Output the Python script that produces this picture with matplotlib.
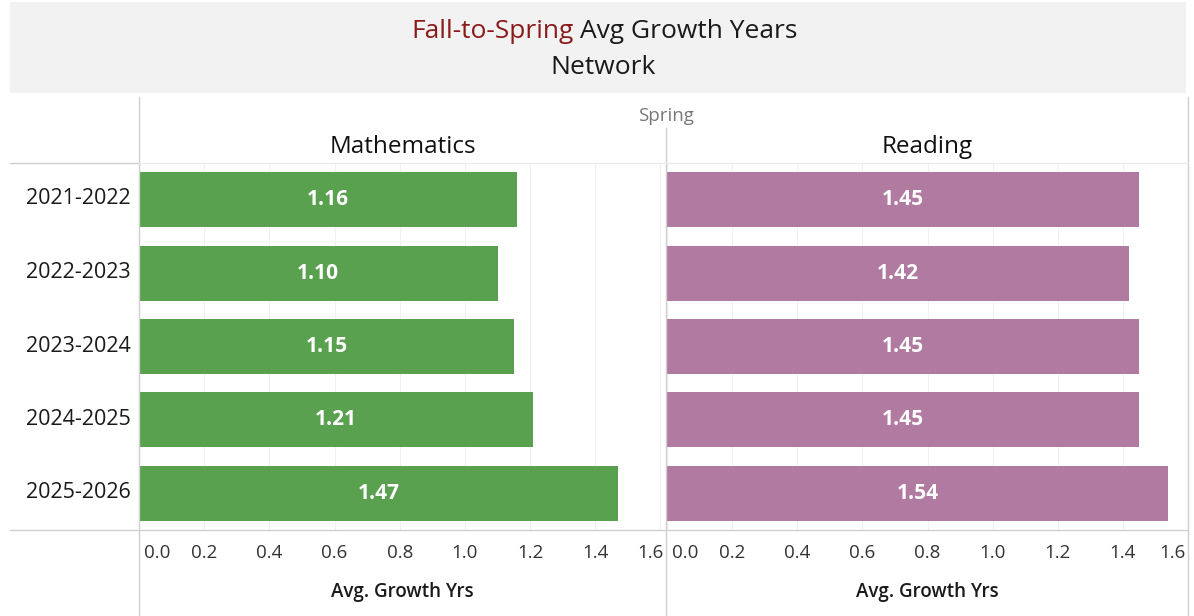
import matplotlib
matplotlib.use('Agg')
import matplotlib.pyplot as plt
from matplotlib.patches import Rectangle
from matplotlib.lines import Line2D

plt.rcParams['font.family'] = ['Open Sans', 'DejaVu Sans']

years = ['2021-2022', '2022-2023', '2023-2024', '2024-2025', '2025-2026']
math_vals = [1.16, 1.10, 1.15, 1.21, 1.47]
read_vals = [1.45, 1.42, 1.45, 1.45, 1.54]
subjects = ['Mathematics', 'Reading']
ticks = [0.0, 0.2, 0.4, 0.6, 0.8, 1.0, 1.2, 1.4, 1.6]

W, H = 1194, 616
fig = plt.figure(figsize=(W / 100, H / 100), dpi=100)

def fx(px):
    return px / W

def fy(py):
    return 1 - py / H

# title band
fig.patches.append(Rectangle((fx(10), fy(93)), fx(1186) - fx(10), fy(2) - fy(93),
                             transform=fig.transFigure, facecolor='#f2f2f2', edgecolor='none'))
fig.text(fx(574), fy(32), 'Fall-to-Spring', color='#8b1a1a', fontsize=19, ha='right', va='center')
fig.text(fx(580), fy(32), 'Avg Growth Years', color='#1a1a1a', fontsize=19, ha='left', va='center')
fig.text(fx(603), fy(67), 'Network', color='#1a1a1a', fontsize=19, ha='center', va='center')

# frame lines
def fline(x0, y0, x1, y1, c='#d0d0d0', lw=1.0):
    fig.lines.append(Line2D([fx(x0), fx(x1)], [fy(y0), fy(y1)], transform=fig.transFigure,
                            color=c, lw=lw))

fline(139, 97, 139, 616)
fline(666, 128, 666, 616)
fline(1188, 97, 1188, 616)
fline(10, 163, 139, 163)
fline(139, 163, 1188, 163, c='#ececec')
fline(10, 530, 1188, 530)

fig.text(fx(666), fy(116), 'Spring', color='#777777', fontsize=13.5, ha='center', va='center')

colors = ['#59a14f', '#b07aa1']
panels = [(139, 666, 1.617, math_vals), (667, 1188, 1.60, read_vals)]
for (x0, x1, xmax, vals), subj, col in zip(panels, subjects, colors):
    ax = fig.add_axes([fx(x0), fy(530), fx(x1) - fx(x0), fy(163) - fy(530)])
    pos = list(range(len(years)))
    ax.barh(pos, vals, height=0.75, color=col, zorder=2)
    for p, v in zip(pos, vals):
        ax.text(v / 2, p, f'{v:.2f}', color='white', fontsize=15, fontweight='bold',
                ha='center', va='center', zorder=3)
    ax.set_xlim(0, xmax)
    ax.set_ylim(len(years) - 0.5, -0.5)
    ax.set_xticks(ticks)
    ax.grid(axis='x', color='#f0f0f0', lw=0.8, zorder=0)
    ax.tick_params(length=0, labelbottom=False, labelleft=False)
    for s in ax.spines.values():
        s.set_visible(False)
    # tick labels below the panel, end labels kept inside
    ty = -(553 - 530) / (530 - 163)
    for t in ticks:
        ha, xt = 'center', t
        if t == ticks[0]:
            ha, xt = 'left', t + 0.015
        elif t == ticks[-1]:
            ha, xt = 'right', min(t + 0.04, xmax) - 0.008
        ax.text(xt, ty, f'{t:.1f}', transform=ax.get_xaxis_transform(),
                ha=ha, va='center', fontsize=13.5, color='#333333')
    cx = (fx(x0) + fx(x1)) / 2
    fig.text(cx, fy(147), subj, fontsize=17.5, ha='center', va='center', color='#111111')
    fig.text(cx, fy(592), 'Avg. Growth Yrs', fontsize=13.5, fontweight='semibold',
             ha='center', va='center', color='#1a1a1a')

for i, yr in enumerate(years):
    fig.text(fx(131), fy(199 + i * 73.5), yr, fontsize=15.5, ha='right', va='center', color='#1a1a1a')

fig.savefig('out.png', dpi=100)
